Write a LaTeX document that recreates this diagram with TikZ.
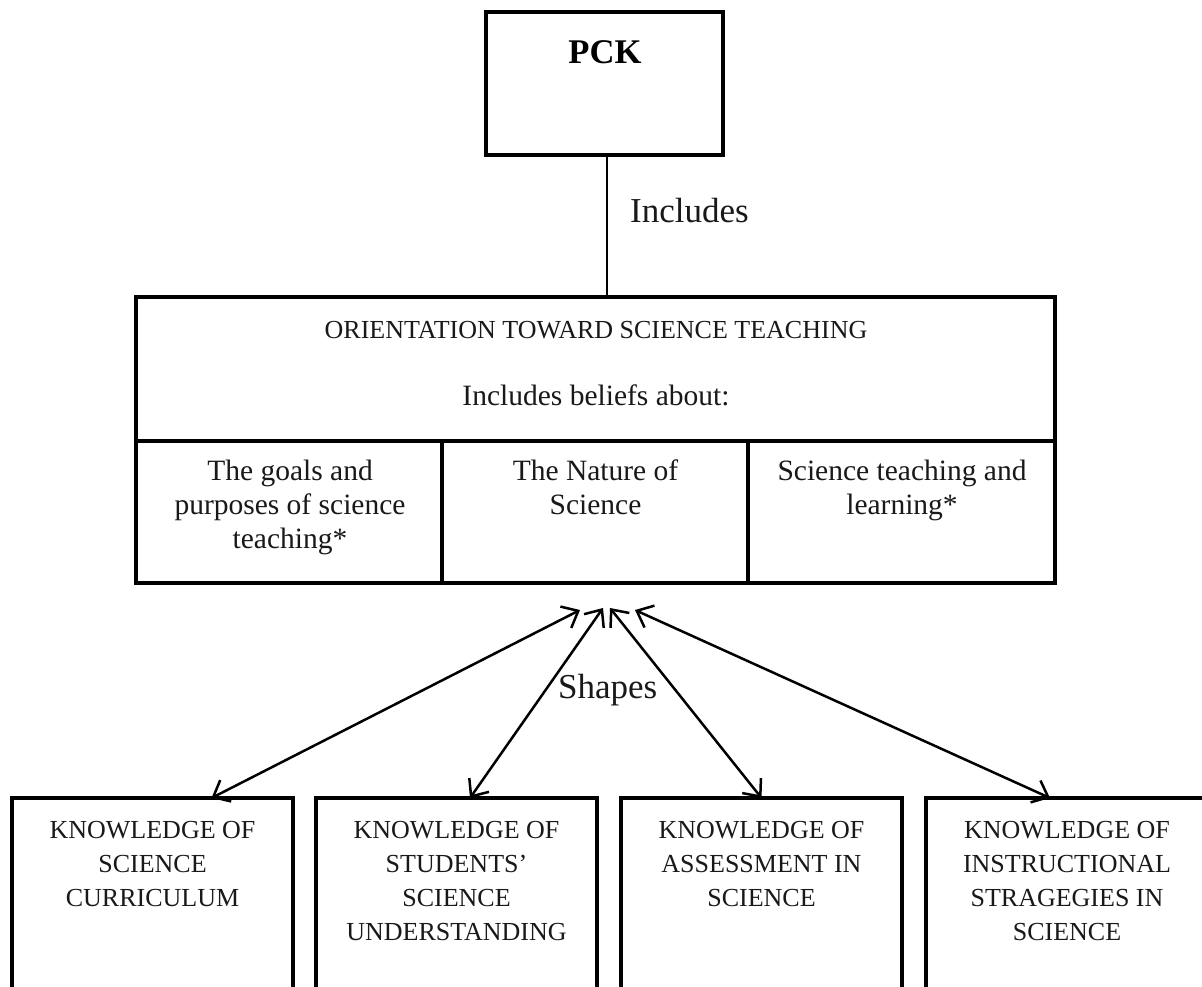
\documentclass[tikz,border=0pt]{standalone}
\usepackage{fontspec}
\setmainfont{Liberation Serif}
\usetikzlibrary{arrows.meta}
% invisible strut that fixes the top of a multi-line text block
\newcommand\firstline{\rule{0pt}{24pt}}

\begin{document}
\begin{tikzpicture}[x=1pt,y=-1pt,
  frame/.style={draw=black, line width=4pt, inner sep=0pt, outer sep=0pt},
  caps/.style={font=\fontsize{26}{34}\selectfont, align=center, inner sep=0pt, text=black!90},
  mixed/.style={font=\fontsize{29.5}{34}\selectfont, align=center, inner sep=0pt, text=black!90},
  lbl/.style={font=\fontsize{35}{40}\selectfont, inner sep=0pt, text=black!90},
  link/.style={line width=2.4pt},
  barb/.tip={Straight Barb[length=14pt,width=24pt]},
  twoway/.style={line width=2.5pt, barb-barb},
]
\clip (0,0) rectangle (1202,986);
\fill[white] (0,0) rectangle (1202,986);

% top box
\node[frame, minimum width=237pt, minimum height=143pt] (pck) at (604.5,83.5) {};
\node[anchor=base, inner sep=0pt, font=\fontsize{34.6}{40}\selectfont\bfseries] (pcktxt) at (605,63) {PCK};

% orientation box and its three belief cells
\node[frame, minimum width=919pt, minimum height=144pt] (orient) at (595.5,369) {};
\node[caps, anchor=base] (orienttitle) at (596,338) {ORIENTATION TOWARD SCIENCE TEACHING};
\node[mixed, anchor=base] (beliefs) at (596,405) {Includes beliefs about:};

\node[frame, minimum width=306pt, minimum height=142pt] (cellA) at (289,512) {};
\node[frame, minimum width=306pt, minimum height=142pt] (cellB) at (595,512) {};
\node[frame, minimum width=307pt, minimum height=142pt] (cellC) at (901.5,512) {};
\node[mixed, anchor=north] (cellAtxt) at (290,456) {\firstline The goals and\\purposes of science\\teaching*};
\node[mixed, anchor=north] (cellBtxt) at (595.5,456) {\firstline The Nature of\\Science};
\node[mixed, anchor=north] (cellCtxt) at (902,456) {\firstline Science teaching and\\learning*};

% link from PCK to the orientation box
\draw[link] ([xshift=2.5pt]pck.south) -- ([xshift=2.5pt]pck.south |- orient.north);
\node[lbl, anchor=base west] (includes) at (630,222) {Includes};

% knowledge boxes
\node[frame, minimum width=281pt, minimum height=212pt] (k1) at (152.5,904) {};
\node[frame, minimum width=281pt, minimum height=212pt] (k2) at (456.5,904) {};
\node[frame, minimum width=281pt, minimum height=212pt] (k3) at (761.5,904) {};
\node[frame, minimum width=281pt, minimum height=212pt] (k4) at (1066.5,904) {};
\node[caps, anchor=north] (k1txt) at (152.5,814) {\firstline KNOWLEDGE OF\\SCIENCE\\CURRICULUM};
\node[caps, anchor=north] (k2txt) at (456.5,814) {\firstline KNOWLEDGE OF\\STUDENTS'\\SCIENCE\\UNDERSTANDING};
\node[caps, anchor=north] (k3txt) at (761.5,814) {\firstline KNOWLEDGE OF\\ASSESSMENT IN\\SCIENCE};
\node[caps, anchor=north] (k4txt) at (1067,814) {\firstline KNOWLEDGE OF\\INSTRUCTIONAL\\STRAGEGIES IN\\SCIENCE};

% free upper ends of the two-way arrows
\coordinate (a1) at (580,610);
\coordinate (a2) at (603,608);
\coordinate (a3) at (610,608);
\coordinate (a4) at (635,610);

\draw[twoway] (a1) -- ([xshift=59pt]k1.north);
\draw[twoway] (a2) -- ([xshift=13.5pt]k2.north);
\draw[twoway] (a3) -- (k3.north);
\draw[twoway] (a4) -- ([xshift=-16.5pt]k4.north);
\node[lbl, anchor=base west] (shapes) at (558,698) {Shapes};
\end{tikzpicture}
\end{document}
